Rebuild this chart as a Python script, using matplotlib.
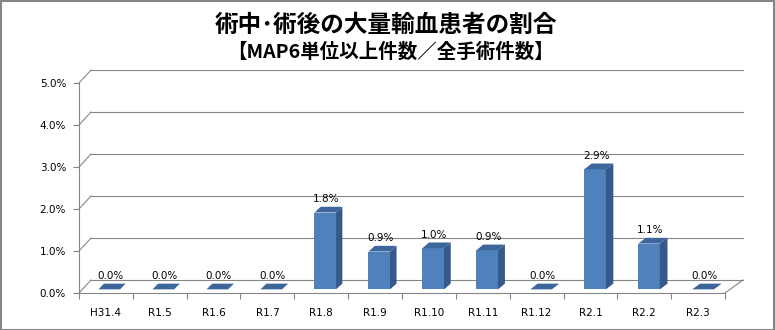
import matplotlib
matplotlib.use("Agg")
import matplotlib.pyplot as plt
from matplotlib.patches import Polygon, Rectangle
import numpy as np

categories = ["H31.4", "R1.5", "R1.6", "R1.7", "R1.8", "R1.9", "R1.10",
              "R1.11", "R1.12", "R2.1", "R2.2", "R2.3"]
values = [0.0, 0.0, 0.0, 0.0, 1.83, 0.90, 0.98, 0.93, 0.0, 2.86, 1.09, 0.0]
yticks = [0, 1, 2, 3, 4, 5]
title = "術中･術後の大量輸血患者の割合"
subtitle = "【MAP6単位以上件数／全手術件数】"

W, H, DPI = 775, 330, 100
fig = plt.figure(figsize=(W / DPI, H / DPI), dpi=DPI)
fig.patch.set_facecolor("white")

# front plane of the 3D box (pixels)
x_left, x_right, y0, y5 = 79, 725, 293, 83
ax = fig.add_axes([x_left / W, (H - y0) / H, (x_right - x_left) / W, (y0 - y5) / H])
n = len(categories)
ax.set_xlim(-0.5, n - 0.5)
ax.set_ylim(0, 5)
ax.set_facecolor("none")

px_per_cat = (x_right - x_left) / n
px_per_unit = (y0 - y5) / 5.0
DXL = 12 / px_per_cat
DXR = 18 / px_per_cat
DY = 13 / px_per_unit


def depth(x, y, f):
    dx = DXL + (DXR - DXL) * (x + 0.5) / n
    return x + f * dx, y + f * DY


grid_c = "#868686"
lw = 0.8
# back wall gridlines and side diagonals
for t in yticks:
    xa, ya = depth(-0.5, t, 1)
    xb, yb = depth(n - 0.5, t, 1)
    ax.plot([xa, xb], [ya, yb], color=grid_c, lw=lw, clip_on=False, zorder=1)
    ax.plot([-0.5, xa], [t, ya], color=grid_c, lw=lw, clip_on=False, zorder=1)
# right floor edge
xb, yb = depth(n - 0.5, 0, 1)
ax.plot([n - 0.5, xb], [0, yb], color=grid_c, lw=lw, clip_on=False, zorder=1)

# bars
front_c = "#4F81BD"
side_c = "#35598A"
top_c = "#3D669C"
bw = 0.40
f0, f1 = 0.28, 0.72
xs = np.arange(n)
fx = [depth(c, 0, f0)[0] for c in xs]
base = f0 * DY
ax.bar(fx, values, width=bw, bottom=base, color=front_c, edgecolor="none",
       zorder=3, clip_on=False)
for c, v in zip(xs, values):
    # top face
    p1 = depth(c - bw / 2, v, f0)
    p2 = depth(c + bw / 2, v, f0)
    p3 = depth(c + bw / 2, v, f1)
    p4 = depth(c - bw / 2, v, f1)
    ax.add_patch(Polygon([p1, p2, p3, p4], closed=True, facecolor=top_c,
                         edgecolor="none", zorder=4, clip_on=False))
    if v > 0:
        q1 = depth(c + bw / 2, 0, f0)
        q2 = depth(c + bw / 2, 0, f1)
        q3 = depth(c + bw / 2, v, f1)
        q4 = depth(c + bw / 2, v, f0)
        ax.add_patch(Polygon([q1, q2, q3, q4], closed=True, facecolor=side_c,
                             edgecolor="none", zorder=4, clip_on=False))
    lx = depth(c, v, f0)[0] + 1 / px_per_cat
    ly = depth(c, v, f1)[1]
    ax.annotate(f"{v:.1f}%", (lx, ly), xytext=(0, 2.0), textcoords="offset points",
                ha="center", va="bottom", fontsize=7.5, color="black",
                family="DejaVu Sans", zorder=5, annotation_clip=False)

# axes styling
for s in ["top", "right"]:
    ax.spines[s].set_visible(False)
for s in ["left", "bottom"]:
    ax.spines[s].set_color(grid_c)
    ax.spines[s].set_linewidth(lw)
ax.set_yticks(yticks)
ax.set_yticklabels([f"{t:.1f}%" for t in yticks], fontsize=7.5, family="DejaVu Sans")
ax.tick_params(axis="y", length=4.3, width=lw, color=grid_c, pad=5.0)
ax.set_xticks(xs)
ax.set_xticklabels(categories, fontsize=7.5, family="DejaVu Sans")
ax.set_xticks(np.arange(-0.5, n, 1.0), minor=True)
ax.tick_params(axis="x", which="major", length=0, pad=10.5)
ax.tick_params(axis="x", which="minor", length=4.3, width=lw, color=grid_c)

# titles
fig.text(386 / W, 1 - 25 / H, title, ha="center", va="center", fontsize=17,
         fontweight="bold", family=["Noto Sans CJK JP", "DejaVu Sans"])
fig.text(391 / W, 1 - 52 / H, subtitle, ha="center", va="center", fontsize=14,
         fontweight="bold", family=["Noto Sans CJK JP", "DejaVu Sans"])

# outer border
fig.add_artist(Rectangle((0.5 / W, 0.5 / H), 1 - 1.5 / W, 1 - 1.5 / H,
                         transform=fig.transFigure, fill=False,
                         edgecolor="#868686", linewidth=1.5))

fig.savefig("out.png", dpi=DPI, facecolor="white")
